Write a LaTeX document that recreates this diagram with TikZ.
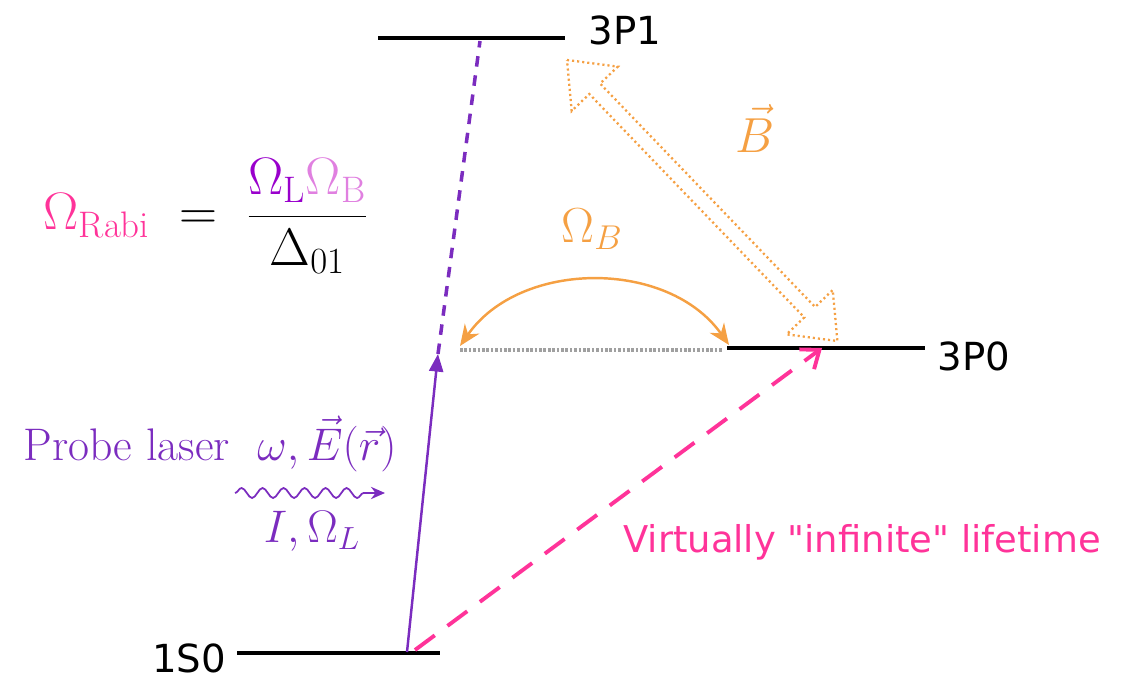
\RequirePackage{fix-cm}
\documentclass[tikz,border=0pt]{standalone}
\usepackage{amsmath}
\usepackage{fontspec}
\newfontfamily\lvlfont{DejaVu Sans}
\usepackage{xcolor}
\definecolor{lvink}{HTML}{000000}
\definecolor{lvpink}{HTML}{FF3399}
\definecolor{lvpurple}{HTML}{7B2CBF}
\definecolor{lvomL}{HTML}{9900CC}
\definecolor{lvomB}{HTML}{E080E0}
\definecolor{lvorange}{HTML}{F5A043}
\definecolor{lvgray}{HTML}{A0A0A0}
\usetikzlibrary{arrows.meta,decorations.pathmorphing,calc}
\tikzset{
  lvline/.style   ={line width=2.6pt, draw=lvink},
  lvlbl/.style    ={font=\lvlfont\fontsize{22}{26}\selectfont, text=lvink, inner sep=0pt},
  lvvirt/.style   ={line width=2pt, draw=lvgray, dash pattern=on 1.5pt off 1pt},
  lvlaser/.style  ={-{Triangle[length=10pt,width=8pt]}, line width=1.4pt, draw=lvpurple},
  lvupper/.style  ={line width=2pt, draw=lvpurple, dash pattern=on 6pt off 5pt},
  lvdecay/.style  ={-{Straight Barb[length=9pt,width=14pt,line width=2.2pt]}, line width=2.2pt,
                    draw=lvpink, dash pattern=on 14pt off 9pt},
  lvcouple/.style ={{Stealth[length=12pt,width=10pt]}-{Stealth[length=12pt,width=10pt]},
                    line width=1.4pt, draw=lvorange},
  lvhollow/.style ={draw=lvorange, line width=1.3pt, dash pattern=on 1.2pt off 1.7pt},
  lvwave/.style   ={-{Stealth[length=8pt,width=7pt]}, line width=1pt, draw=lvpurple,
                    decorate, decoration={snake, amplitude=0.1cm, segment length=0.42cm,
                    post length=0.25cm}},
  lvmath/.style   ={font=\fontsize{28}{32}\selectfont, inner sep=0pt},
}

\begin{document}
\begin{tikzpicture}
  \useasboundingbox (0,0) rectangle (22.56,13.62);
  % levels
  \coordinate (p1l) at (7.56,12.86);  \coordinate (p1r) at (11.30,12.86);
  \coordinate (p0l) at (14.54,6.66);  \coordinate (p0r) at (18.50,6.66);
  \coordinate (s0l) at (4.74,0.56);   \coordinate (s0r) at (8.80,0.56);
  \draw[lvline] (p1l) -- (p1r);
  \draw[lvline] (p0l) -- (p0r);
  \draw[lvline] (s0l) -- (s0r);
  \node[lvlbl] (t3p1) at (12.50,13.02) {3P1};
  \node[lvlbl] (t3p0) at (19.48,6.50) {3P0};
  \node[lvlbl] (t1s0) at (3.78,0.46) {1S0};
  % virtual level
  \coordinate (vl) at (9.20,6.62);  \coordinate (vr) at (14.44,6.62);
  \draw[lvvirt] (vl) -- (vr);
  % laser excitation
  \coordinate (lsrc) at (8.14,0.58); \coordinate (ltip) at (8.76,6.54);
  \coordinate (ltop) at (9.60,12.80);
  \draw[lvlaser] (lsrc) -- (ltip);
  \draw[lvupper] (ltip) -- (ltop);
  % decay
  \coordinate (dsrc) at (8.30,0.62); \coordinate (dtip) at (16.44,6.66);
  \draw[lvdecay] (dsrc) -- (dtip);
  % B coupling
  \coordinate (cl) at (9.20,6.70); \coordinate (cr) at (14.58,6.72);
  \draw[lvcouple] (cl) to[bend left=55] (cr);
  \node[lvmath, text=lvorange] (omb) at (11.84,9.04) {$\Omega_B$};
  % static field
  \coordinate (bs) at (11.34,12.42); \coordinate (be) at (16.74,6.80);
  \begin{scope}[shift={(bs)}, rotate=-46.1]
    \draw[lvhollow] (0,0) -- (0.80,0.64) -- (0.80,0.15) -- (7.00,0.15) -- (7.00,0.64)
      -- (7.80,0) -- (7.00,-0.64) -- (7.00,-0.15) -- (0.80,-0.15) -- (0.80,-0.64) -- cycle;
  \end{scope}
  \node[lvmath, text=lvorange] (bvec) at (15.10,11.05) {$\vec B$};
  % probe laser
  \node[lvmath, text=lvpurple, font=\fontsize{26}{30}\selectfont] (probe) at (4.20,4.74)
    {Probe laser \ $\omega,\vec E(\vec r)$};
  \coordinate (ws) at (4.70,3.76); \coordinate (we) at (7.70,3.76);
  \draw[lvwave] (ws) -- (we);
  \node[lvmath, text=lvpurple, font=\fontsize{26}{30}\selectfont] (intens) at (6.24,3.00)
    {$I,\Omega_L$};
  % lifetime
  \node[lvlbl, text=lvpink, font=\lvlfont\fontsize{21}{25}\selectfont] (life) at (17.24,2.78)
    {Virtually "infinite" lifetime};
  % Rabi frequency
  \node[lvmath, font=\fontsize{30}{36}\selectfont] (rabi) at (4.12,9.30)
    {${\color{lvpink}\Omega_{\mathrm{Rabi}}} \;=\; \dfrac{{\color{lvomL}\Omega_{\mathrm{L}}}{\color{lvomB}\Omega_{\mathrm{B}}}}{\Delta_{01}}$};
\end{tikzpicture}
\end{document}
